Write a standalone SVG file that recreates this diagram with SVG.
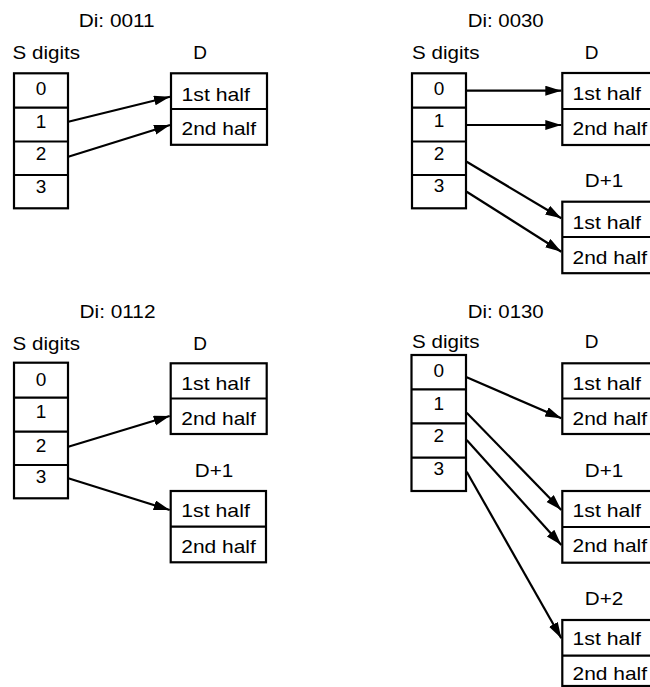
<svg xmlns="http://www.w3.org/2000/svg" width="650" height="687" viewBox="0 0 650 687">
<style>
.box{fill:#fff;stroke:#000;stroke-width:2.2}
.div{stroke:#000;stroke-width:2.2}
.t{font-family:"Liberation Sans",Arial,Helvetica,sans-serif;font-size:19px;fill:#000}
.m{text-anchor:middle}
.arr{stroke:#000;stroke-width:2.2;fill:none;marker-end:url(#ah)}
</style>
<defs>
<marker id="ah" markerUnits="userSpaceOnUse" markerWidth="17" markerHeight="11" refX="16" refY="5" orient="auto">
<path d="M0,0 L16,5 L0,10 z" fill="#000"/>
</marker>
</defs>
<rect width="650" height="687" fill="#fff"/>

<!-- Panel 1 -->
<g id="p1-title"><text class="t m" x="116.7" y="26.7" textLength="76" lengthAdjust="spacingAndGlyphs">Di: 0011</text></g>
<g id="p1-S">
<text class="t" x="12.5" y="59.3" textLength="67.5" lengthAdjust="spacingAndGlyphs">S digits</text>
<rect class="box" x="14" y="73.3" width="54" height="135"/>
<line class="div" x1="14" y1="107.7" x2="68" y2="107.7"/>
<line class="div" x1="14" y1="141.5" x2="68" y2="141.5"/>
<line class="div" x1="14" y1="175" x2="68" y2="175"/>
<text class="t m" x="41" y="95">0</text>
<text class="t m" x="41" y="127.5">1</text>
<text class="t m" x="41" y="160">2</text>
<text class="t m" x="41" y="193">3</text>
</g>
<g id="p1-D">
<text class="t m" x="200" y="59.3">D</text>
<rect class="box" x="171" y="73.3" width="96" height="71.5"/>
<line class="div" x1="171" y1="109" x2="267" y2="109"/>
<text class="t" x="181.5" y="100.7" textLength="68.5" lengthAdjust="spacingAndGlyphs">1st half</text>
<text class="t" x="181.5" y="135" textLength="74.5" lengthAdjust="spacingAndGlyphs">2nd half</text>
</g>

<!-- Panel 2 -->
<g id="p2-title"><text class="t m" x="505.7" y="26.7" textLength="76" lengthAdjust="spacingAndGlyphs">Di: 0030</text></g>
<g id="p2-S">
<text class="t" x="412" y="59.3" textLength="67.5" lengthAdjust="spacingAndGlyphs">S digits</text>
<rect class="box" x="412" y="73.3" width="54" height="135"/>
<line class="div" x1="412" y1="107.7" x2="466" y2="107.7"/>
<line class="div" x1="412" y1="141.5" x2="466" y2="141.5"/>
<line class="div" x1="412" y1="175" x2="466" y2="175"/>
<text class="t m" x="439" y="95">0</text>
<text class="t m" x="439" y="127">1</text>
<text class="t m" x="439" y="160">2</text>
<text class="t m" x="439" y="192">3</text>
</g>
<g id="p2-D">
<text class="t m" x="591.7" y="59.3">D</text>
<rect class="box" x="562.3" y="73" width="96" height="72"/>
<line class="div" x1="562.3" y1="109" x2="658" y2="109"/>
<text class="t" x="572.5" y="100.3" textLength="68.5" lengthAdjust="spacingAndGlyphs">1st half</text>
<text class="t" x="572.5" y="135" textLength="74.5" lengthAdjust="spacingAndGlyphs">2nd half</text>
</g>
<g id="p2-D1">
<text class="t m" x="604" y="186.7" textLength="38.5" lengthAdjust="spacingAndGlyphs">D+1</text>
<rect class="box" x="562.3" y="201.7" width="96" height="71.5"/>
<line class="div" x1="562.3" y1="237" x2="658" y2="237"/>
<text class="t" x="572.5" y="228.5" textLength="68.5" lengthAdjust="spacingAndGlyphs">1st half</text>
<text class="t" x="572.5" y="264" textLength="74.5" lengthAdjust="spacingAndGlyphs">2nd half</text>
</g>

<!-- Panel 3 -->
<g id="p3-title"><text class="t m" x="117.5" y="318.3" textLength="76" lengthAdjust="spacingAndGlyphs">Di: 0112</text></g>
<g id="p3-S">
<text class="t" x="12.5" y="350" textLength="67.5" lengthAdjust="spacingAndGlyphs">S digits</text>
<rect class="box" x="14" y="362.7" width="54" height="135.6"/>
<line class="div" x1="14" y1="397.7" x2="68" y2="397.7"/>
<line class="div" x1="14" y1="431.7" x2="68" y2="431.7"/>
<line class="div" x1="14" y1="465" x2="68" y2="465"/>
<text class="t m" x="41" y="386">0</text>
<text class="t m" x="41" y="418">1</text>
<text class="t m" x="41" y="452">2</text>
<text class="t m" x="41" y="483">3</text>
</g>
<g id="p3-D">
<text class="t m" x="200" y="350">D</text>
<rect class="box" x="170.7" y="363.3" width="96" height="70.7"/>
<line class="div" x1="170.7" y1="398.5" x2="266.7" y2="398.5"/>
<text class="t" x="181.3" y="390" textLength="68.5" lengthAdjust="spacingAndGlyphs">1st half</text>
<text class="t" x="181.3" y="425" textLength="74.5" lengthAdjust="spacingAndGlyphs">2nd half</text>
</g>
<g id="p3-D1">
<text class="t m" x="214" y="476.7" textLength="38.5" lengthAdjust="spacingAndGlyphs">D+1</text>
<rect class="box" x="170.7" y="491" width="95.3" height="71.3"/>
<line class="div" x1="170.7" y1="526.7" x2="266" y2="526.7"/>
<text class="t" x="181.3" y="517.3" textLength="68.5" lengthAdjust="spacingAndGlyphs">1st half</text>
<text class="t" x="181.3" y="552.7" textLength="74.5" lengthAdjust="spacingAndGlyphs">2nd half</text>
</g>

<!-- Panel 4 -->
<g id="p4-title"><text class="t m" x="505.7" y="318.3" textLength="76" lengthAdjust="spacingAndGlyphs">Di: 0130</text></g>
<g id="p4-S">
<text class="t" x="412" y="348.3" textLength="67.5" lengthAdjust="spacingAndGlyphs">S digits</text>
<rect class="box" x="411.5" y="355" width="54.5" height="136"/>
<line class="div" x1="411.5" y1="389.3" x2="466" y2="389.3"/>
<line class="div" x1="411.5" y1="423.3" x2="466" y2="423.3"/>
<line class="div" x1="411.5" y1="457.7" x2="466" y2="457.7"/>
<text class="t m" x="438.7" y="377.3">0</text>
<text class="t m" x="438.7" y="410">1</text>
<text class="t m" x="438.7" y="442">2</text>
<text class="t m" x="438.7" y="475">3</text>
</g>
<g id="p4-D">
<text class="t m" x="591.7" y="348.3">D</text>
<rect class="box" x="562.3" y="363.3" width="96" height="70.7"/>
<line class="div" x1="562.3" y1="398.5" x2="658" y2="398.5"/>
<text class="t" x="572.5" y="390" textLength="68.5" lengthAdjust="spacingAndGlyphs">1st half</text>
<text class="t" x="572.5" y="425" textLength="74.5" lengthAdjust="spacingAndGlyphs">2nd half</text>
</g>
<g id="p4-D1">
<text class="t m" x="604" y="476.7" textLength="38.5" lengthAdjust="spacingAndGlyphs">D+1</text>
<rect class="box" x="562.3" y="491" width="96" height="71.7"/>
<line class="div" x1="562.3" y1="527" x2="658" y2="527"/>
<text class="t" x="572.5" y="516.7" textLength="68.5" lengthAdjust="spacingAndGlyphs">1st half</text>
<text class="t" x="572.5" y="552" textLength="74.5" lengthAdjust="spacingAndGlyphs">2nd half</text>
</g>
<g id="p4-D2">
<text class="t m" x="604" y="605" textLength="38.5" lengthAdjust="spacingAndGlyphs">D+2</text>
<rect class="box" x="562.3" y="620" width="96" height="66"/>
<line class="div" x1="562.3" y1="655.7" x2="658" y2="655.7"/>
<text class="t" x="572.5" y="645" textLength="68.5" lengthAdjust="spacingAndGlyphs">1st half</text>
<text class="t" x="572.5" y="680" textLength="74.5" lengthAdjust="spacingAndGlyphs">2nd half</text>
</g>

<g id="connectors">
<line class="arr" x1="68.3" y1="121.7" x2="170" y2="96.7"/>
<line class="arr" x1="68.3" y1="156.7" x2="170" y2="125"/>
<line class="arr" x1="466.7" y1="90.7" x2="561.3" y2="90.7"/>
<line class="arr" x1="466.7" y1="125" x2="561.3" y2="125"/>
<line class="arr" x1="466.7" y1="161.7" x2="561.3" y2="218.3"/>
<line class="arr" x1="466.7" y1="191.7" x2="561.3" y2="251.7"/>
<line class="arr" x1="68.3" y1="446.7" x2="169.7" y2="416"/>
<line class="arr" x1="68.3" y1="478.3" x2="169.7" y2="510"/>
<line class="arr" x1="466.7" y1="377.3" x2="561.3" y2="418.3"/>
<line class="arr" x1="466.7" y1="412.7" x2="561.3" y2="510"/>
<line class="arr" x1="466.7" y1="440" x2="561.3" y2="545"/>
<line class="arr" x1="466.7" y1="471.7" x2="561.3" y2="638.3"/>
</g>
</svg>
